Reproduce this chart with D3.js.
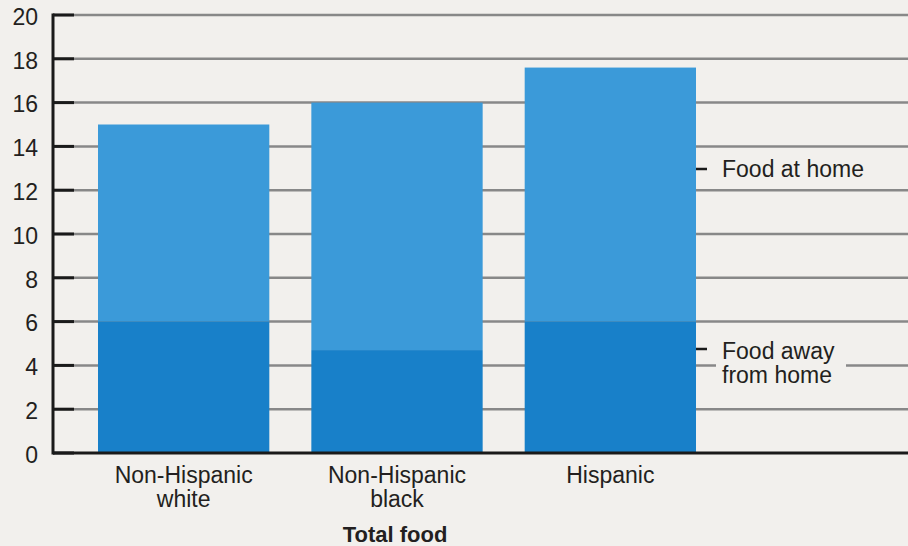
<!DOCTYPE html>
<html><head><meta charset="utf-8">
<script src="https://cdn.jsdelivr.net/npm/d3@7"></script>
<style>
html,body{margin:0;padding:0;background:#f2f0ed;}
svg{display:block;font-family:"Liberation Sans",Arial,Helvetica,sans-serif;}
</style></head><body>
<svg id="chart" width="908" height="546"></svg>
<script>
const categories = [["Non-Hispanic","white"],["Non-Hispanic","black"],["Hispanic"]];
const foodAway = [6.0, 4.7, 6.0];
const foodHome = [9.0, 11.3, 11.6];
const yTicks = [0,2,4,6,8,10,12,14,16,18,20];
const seriesNames = ["Food at home", ["Food away","from home"]];
const xTitle = "Total food";

const W = 908, H = 546;
const bg = "#f2f0ed";
const ink = "#231f20";
const fs = 23;
const svg = d3.select("#chart");
svg.append("rect").attr("width",W).attr("height",H).attr("fill",bg);

const x0 = 53, yTop = 15, yBot = 453;
const y = d3.scaleLinear().domain([0,20]).range([yBot,yTop]);
const x = d3.scaleBand().domain(d3.range(categories.length)).range([98,696]).paddingInner(0.197).paddingOuter(0);

// gridlines
svg.append("g").selectAll("line").data(yTicks.filter(d=>d>0)).join("line")
  .attr("x1",x0).attr("x2",W).attr("y1",d=>y(d)).attr("y2",d=>y(d))
  .attr("stroke","#888888").attr("stroke-width",2.5);

// bars
const g = svg.append("g");
categories.forEach((c,i)=>{
  g.append("rect").attr("x",x(i)).attr("width",x.bandwidth())
    .attr("y",y(foodAway[i]+foodHome[i])).attr("height",y(foodAway[i])-y(foodAway[i]+foodHome[i]))
    .attr("fill","#3b9ad9");
  g.append("rect").attr("x",x(i)).attr("width",x.bandwidth())
    .attr("y",y(foodAway[i])).attr("height",yBot-y(foodAway[i]))
    .attr("fill","#1880c9");
});

// y axis
const yAxis = d3.axisLeft(y).tickValues(yTicks).tickSize(0).tickPadding(15);
const ya = svg.append("g").attr("transform",`translate(${x0},0)`).call(yAxis);
ya.select(".domain").remove();
ya.selectAll("text").attr("font-size",fs).attr("fill",ink).attr("font-family","Liberation Sans, Arial, sans-serif").attr("dy","0.4em");
// black ticks
svg.append("g").selectAll("line").data(yTicks).join("line")
  .attr("x1",x0).attr("x2",74).attr("y1",d=>y(d)).attr("y2",d=>y(d))
  .attr("stroke","#1a1a1a").attr("stroke-width",3);
svg.append("line").attr("x1",x0).attr("x2",x0).attr("y1",yTop-1.5).attr("y2",yBot+1.5).attr("stroke","#1a1a1a").attr("stroke-width",3);
svg.append("line").attr("x1",x0).attr("x2",W).attr("y1",yBot).attr("y2",yBot).attr("stroke","#1a1a1a").attr("stroke-width",3);

// category labels
categories.forEach((c,i)=>{
  const cx = x(i)+x.bandwidth()/2;
  const t = svg.append("text").attr("x",cx).attr("y",483)
    .attr("text-anchor","middle").attr("font-size",fs).attr("fill",ink);
  c.forEach((line,j)=>t.append("tspan").attr("x",cx).attr("dy",j?24:0).text(line));
});
svg.append("text").attr("x",x(1)+x.bandwidth()/2-2).attr("y",542).attr("text-anchor","middle")
  .attr("font-size",fs-1).attr("font-weight","bold").attr("fill",ink).text(xTitle);

// legend
const lx = x(2)+x.bandwidth();
svg.append("line").attr("x1",lx).attr("x2",lx+11).attr("y1",169).attr("y2",169).attr("stroke","#1a1a1a").attr("stroke-width",2.5);
svg.append("text").attr("x",lx+26).attr("y",177).attr("font-size",fs).attr("fill",ink).text(seriesNames[0]);
svg.append("rect").attr("x",lx+20).attr("y",338).attr("width",130).attr("height",50).attr("fill",bg);
svg.append("line").attr("x1",lx).attr("x2",lx+11).attr("y1",349).attr("y2",349).attr("stroke","#1a1a1a").attr("stroke-width",2.5);
seriesNames[1].forEach((s,j)=>svg.append("text").attr("x",lx+26).attr("y",359+j*24)
  .attr("font-size",fs).attr("fill",ink).text(s));
</script>
</body></html>
